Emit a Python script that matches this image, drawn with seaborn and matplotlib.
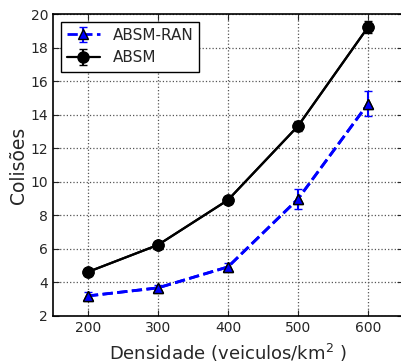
import matplotlib
matplotlib.use('Agg')
import matplotlib.pyplot as plt
import numpy as np
import pandas as pd
import seaborn as sns

densidade = [200, 300, 400, 500, 600]
absm = [4.62, 6.23, 8.91, 13.32, 19.22]
absm_err = [0.15, 0.15, 0.15, 0.3, 0.35]
absm_ran = [3.19, 3.67, 4.92, 8.97, 14.65]
absm_ran_err = [0.25, 0.2, 0.25, 0.6, 0.75]

sns.set_style('ticks')
plt.rcParams['font.family'] = ['DejaVu Sans']

df = pd.DataFrame({
    'densidade': densidade * 2,
    'colisoes': absm_ran + absm,
    'serie': ['ABSM-RAN'] * 5 + ['ABSM'] * 5,
})

fig = plt.figure(figsize=(4.01, 3.61), dpi=100)
ax = fig.add_axes([0.132, 0.125, 0.873, 0.836])

sns.lineplot(data=df[df.serie == 'ABSM-RAN'], x='densidade', y='colisoes',
             color='#0000ff', linestyle='--', linewidth=2, marker='^',
             markersize=7, markeredgecolor='black', markeredgewidth=1,
             legend=False, ax=ax)
sns.lineplot(data=df[df.serie == 'ABSM'], x='densidade', y='colisoes',
             color='black', linewidth=1.6, marker='o', markersize=8,
             markeredgecolor='black', legend=False, ax=ax)

h1 = ax.errorbar(densidade, absm_ran, yerr=absm_ran_err, fmt='^--', color='#0000ff',
                 mec='black', ms=7, lw=2, capsize=3, elinewidth=1.5,
                 label='ABSM-RAN', zorder=1)
h2 = ax.errorbar(densidade, absm, yerr=absm_err, fmt='o-', color='black',
                 ms=8, lw=1.6, capsize=3, elinewidth=1.5, label='ABSM', zorder=1)

ax.set_xlim(150, 650)
ax.set_ylim(2, 20)
ax.set_xticks(densidade)
ax.set_yticks(range(2, 21, 2))
ax.tick_params(direction='in', labelsize=10, length=4, top=True, right=True)
ax.grid(True, linestyle=':', color='#555555', linewidth=0.9)
for s in ax.spines.values():
    s.set_linewidth(1.2)
    s.set_color('black')

ax.set_xlabel('Densidade (veiculos/km$^2$ )', fontsize=13, labelpad=5)
ax.set_ylabel('Colisões', fontsize=13.5, labelpad=2)

leg = ax.legend(handles=[h1, h2], labels=['ABSM-RAN', 'ABSM'], loc='upper left',
                fontsize=11, fancybox=False, framealpha=1, edgecolor='black',
                borderaxespad=0.5, handlelength=2.2)
leg.get_frame().set_linewidth(1)

fig.savefig('out.png', dpi=100)
plt.close()
